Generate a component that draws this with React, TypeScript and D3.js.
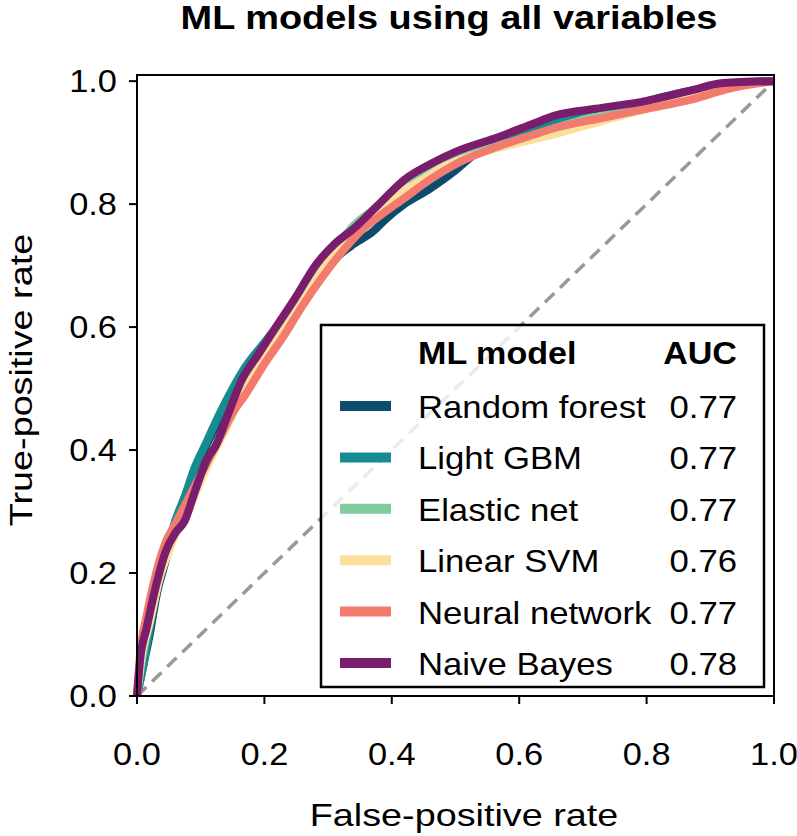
import React from 'react';
import * as d3 from 'd3';

// ROC points: [false-positive rate, true-positive rate]
const models = ['Random forest', 'Light GBM', 'Elastic net', 'Linear SVM', 'Neural network', 'Naive Bayes'];
const aucs = ['0.77', '0.77', '0.77', '0.76', '0.77', '0.78'];
const tickValues = [0, 0.2, 0.4, 0.6, 0.8, 1.0];

const randomForest = [
  [0, 0], [0.01, 0.05], [0.02, 0.1], [0.03, 0.16], [0.045, 0.22], [0.06, 0.28], [0.075, 0.32],
  [0.09, 0.36], [0.11, 0.41], [0.13, 0.45], [0.15, 0.49], [0.17, 0.525], [0.2, 0.57], [0.23, 0.61],
  [0.26, 0.65], [0.28, 0.67], [0.31, 0.71], [0.34, 0.735], [0.37, 0.755], [0.39, 0.775], [0.42, 0.8],
  [0.46, 0.825], [0.5, 0.855], [0.535, 0.885], [0.58, 0.905], [0.63, 0.925], [0.7, 0.945],
  [0.78, 0.962], [0.85, 0.975], [0.92, 0.993], [1, 1],
];
const lightGbm = [
  [0, 0], [0.01, 0.05], [0.02, 0.11], [0.03, 0.17], [0.045, 0.23], [0.06, 0.285], [0.075, 0.325],
  [0.09, 0.37], [0.11, 0.415], [0.13, 0.46], [0.15, 0.5], [0.17, 0.535], [0.2, 0.575], [0.23, 0.615],
  [0.26, 0.655], [0.29, 0.69], [0.32, 0.725], [0.35, 0.76], [0.38, 0.79], [0.42, 0.825], [0.46, 0.855],
  [0.5, 0.875], [0.56, 0.9], [0.62, 0.925], [0.7, 0.945], [0.78, 0.962], [0.84, 0.978], [0.9, 0.99],
  [0.95, 0.998], [1, 1],
];
const elasticNet = [
  [0, 0], [0.008, 0.06], [0.02, 0.12], [0.035, 0.19], [0.05, 0.24], [0.065, 0.28], [0.08, 0.31],
  [0.1, 0.36], [0.12, 0.4], [0.14, 0.445], [0.165, 0.5], [0.19, 0.54], [0.22, 0.59], [0.25, 0.635],
  [0.28, 0.68], [0.31, 0.725], [0.34, 0.765], [0.37, 0.79], [0.4, 0.812], [0.44, 0.84], [0.48, 0.865],
  [0.53, 0.885], [0.6, 0.905], [0.66, 0.925], [0.73, 0.945], [0.8, 0.958], [0.87, 0.975], [0.93, 0.99],
  [1, 1],
];
const linearSvm = [
  [0, 0], [0.008, 0.07], [0.02, 0.12], [0.035, 0.19], [0.05, 0.235], [0.065, 0.275], [0.08, 0.3],
  [0.1, 0.35], [0.12, 0.395], [0.14, 0.435], [0.165, 0.49], [0.19, 0.535], [0.22, 0.58], [0.25, 0.625],
  [0.28, 0.675], [0.31, 0.72], [0.34, 0.755], [0.37, 0.785], [0.4, 0.81], [0.44, 0.835], [0.48, 0.86],
  [0.53, 0.88], [0.6, 0.9], [0.66, 0.915], [0.73, 0.935], [0.8, 0.955], [0.87, 0.972], [0.93, 0.99],
  [1, 1],
];
const neuralNet = [
  [0, 0], [0.005, 0.07], [0.015, 0.13], [0.03, 0.2], [0.045, 0.25], [0.06, 0.28], [0.075, 0.31],
  [0.09, 0.34], [0.11, 0.38], [0.13, 0.42], [0.15, 0.46], [0.17, 0.49], [0.2, 0.54], [0.23, 0.585],
  [0.26, 0.635], [0.29, 0.68], [0.32, 0.72], [0.35, 0.755], [0.38, 0.78], [0.42, 0.81], [0.46, 0.84],
  [0.5, 0.865], [0.57, 0.895], [0.62, 0.912], [0.66, 0.925], [0.73, 0.94], [0.8, 0.955], [0.87, 0.97],
  [0.93, 0.988], [1, 1],
];
const naiveBayes = [
  [0, 0], [0.005, 0.06], [0.015, 0.11], [0.03, 0.18], [0.045, 0.235], [0.06, 0.265], [0.075, 0.285],
  [0.09, 0.33], [0.11, 0.385], [0.125, 0.41], [0.14, 0.45], [0.165, 0.515], [0.19, 0.555], [0.215, 0.595],
  [0.25, 0.65], [0.28, 0.7], [0.31, 0.735], [0.34, 0.76], [0.38, 0.8], [0.42, 0.84], [0.46, 0.865],
  [0.5, 0.885], [0.57, 0.91], [0.62, 0.93], [0.66, 0.945], [0.72, 0.955], [0.8, 0.968], [0.87, 0.985],
  [0.92, 0.997], [1, 1],
];

const curves = [randomForest, lightGbm, elasticNet, linearSvm, neuralNet, naiveBayes];
const colors = ['#0d4c6e', '#168b92', '#7fcd9f', '#fcdf9c', '#f27b6d', '#7a1d6d'];

const FONT = '"Liberation Sans", Arial, Helvetica, sans-serif';

// text is a bit wider than Arial in the source, so stretch it horizontally
function Txt({ x, y, size = 31, sx = 1.11, weight = 'normal', anchor = 'start', rotate = 0, children }: any) {
  return (
    <text
      transform={`translate(${x},${y}) rotate(${rotate}) scale(${sx},1)`}
      fontFamily={FONT}
      fontSize={size}
      fontWeight={weight}
      textAnchor={anchor}
      fill="#000"
    >
      {children}
    </text>
  );
}

export default function App() {
  const x = d3.scaleLinear().domain([0, 1]).range([137, 774]);
  const y = d3.scaleLinear().domain([0, 1.01]).range([696, 75]);
  const line = d3.line<number[]>().x(d => x(d[0])).y(d => y(d[1])).curve(d3.curveMonotoneX);

  const [x0, x1] = x.range();
  const [y0, y1] = y.range();

  return (
    <svg width={797} height={836} style={{ position: 'absolute', left: 0, top: 0, background: '#fff' }}>
      <Txt x={449} y={29} size={33} sx={1.15} weight="bold" anchor="middle">
        ML models using all variables
      </Txt>

      {/* diagonal reference */}
      <line x1={x(0)} y1={y(0)} x2={x(1)} y2={y(1)} stroke="#999" strokeWidth={3.5} strokeDasharray="13 8" />

      {curves.map((c, i) => (
        <path key={models[i]} d={line(c) as string} fill="none" stroke={colors[i]} strokeWidth={8} strokeLinejoin="round" />
      ))}

      {/* frame */}
      <rect x={x0} y={y1} width={x1 - x0} height={y0 - y1} fill="none" stroke="#000" strokeWidth={2} />

      {tickValues.map(t => (
        <g key={'x' + t}>
          <line x1={x(t)} x2={x(t)} y1={y0} y2={y0 + 8} stroke="#000" strokeWidth={2} />
          <Txt x={x(t)} y={765} anchor="middle">{t.toFixed(1)}</Txt>
        </g>
      ))}
      {tickValues.map(t => (
        <g key={'y' + t}>
          <line x1={x0 - 8} x2={x0} y1={y(t)} y2={y(t)} stroke="#000" strokeWidth={2} />
          <Txt x={117} y={y(t) + 11} anchor="end">{t.toFixed(1)}</Txt>
        </g>
      ))}

      <Txt x={464} y={826} size={32} sx={1.18} anchor="middle">False-positive rate</Txt>
      <Txt x={32} y={380} size={32} sx={1.18} anchor="middle" rotate={-90}>True-positive rate</Txt>

      {/* legend */}
      <g>
        <rect x={321} y={325} width={443} height={362} fill="#fff" fillOpacity={0.8} stroke="#000" strokeWidth={2.5} />
        <Txt x={418} y={364} weight="bold" sx={1.1}>ML model</Txt>
        <Txt x={737} y={364} weight="bold" sx={1.1} anchor="end">AUC</Txt>
        {models.map((m, i) => {
          const base = 418 + i * 51.4;
          return (
            <g key={m}>
              <line x1={340} x2={391} y1={base - 12} y2={base - 12} stroke={colors[i]} strokeWidth={10} />
              <Txt x={418} y={base} sx={1.12}>{m}</Txt>
              <Txt x={737} y={base} sx={1.12} anchor="end">{aucs[i]}</Txt>
            </g>
          );
        })}
      </g>
    </svg>
  );
}
